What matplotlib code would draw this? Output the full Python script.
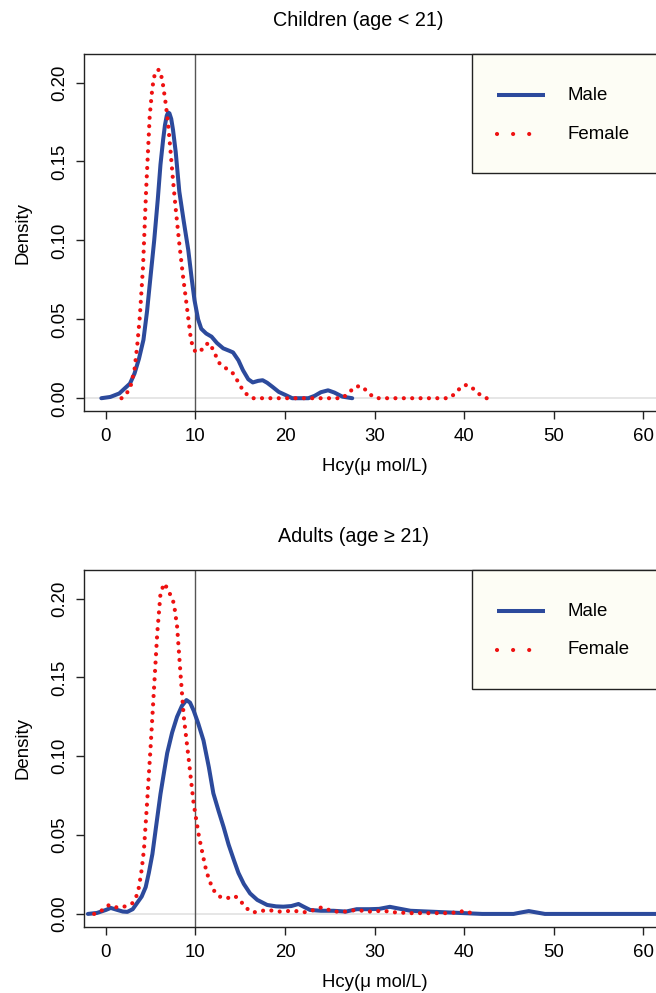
import numpy as np
import matplotlib
matplotlib.use("Agg")
import matplotlib.pyplot as plt
from matplotlib.patches import Rectangle
from matplotlib.lines import Line2D

plt.rcParams['font.family'] = ['Liberation Sans', 'DejaVu Sans']

# Children (age < 21) density curves
child_male_x = [-0.5, 0.5, 1.5, 2.7, 3.2, 3.7, 4.2, 4.6, 4.9, 5.4, 5.8, 6.1, 6.4, 6.6, 6.8, 6.95,
                7.1, 7.3, 7.5, 7.8, 8.2, 8.7, 9.2, 9.6, 9.9, 10.3, 10.65, 11.2, 11.8, 12.4, 13.1,
                13.8, 14.2, 14.8, 15.3, 15.9, 16.4, 17.0, 17.5, 18.0, 18.6, 19.3, 20.1, 20.8,
                22.6, 23.3, 24.0, 24.8, 25.5, 26.4, 27.5]
child_male_y = [0.0, 0.0008, 0.003, 0.0093, 0.0156, 0.025, 0.037, 0.055, 0.072, 0.100, 0.126,
                0.148, 0.164, 0.173, 0.179, 0.181, 0.1805, 0.177, 0.170, 0.156, 0.131, 0.112,
                0.094, 0.075, 0.062, 0.050, 0.044, 0.041, 0.039, 0.035, 0.0316, 0.030, 0.029,
                0.024, 0.0178, 0.012, 0.010, 0.011, 0.0114, 0.0098, 0.0072, 0.004, 0.0019, 0.0,
                0.0, 0.0015, 0.0038, 0.005, 0.0036, 0.001, 0.0]

child_female_x = [1.75, 2.3, 2.7, 3.2, 3.5, 3.8, 4.15, 4.5, 4.9, 5.2, 5.45, 5.7, 6.0, 6.2, 6.4,
                  6.7, 6.95, 7.2, 7.5, 7.8, 8.2, 8.6, 9.0, 9.5, 9.8, 10.1, 10.6, 11.1, 11.6,
                  12.1, 12.7, 13.4, 14.2, 14.8, 15.3, 15.9, 16.4, 26.4, 27.2, 27.9, 28.6, 29.2,
                  29.9, 30.5, 38.3, 39.0, 39.7, 40.3, 41.0, 41.8, 42.5]
child_female_y = [0.0, 0.003, 0.006, 0.018, 0.033, 0.052, 0.083, 0.132, 0.179, 0.197, 0.205,
                  0.208, 0.208, 0.204, 0.198, 0.186, 0.174, 0.158, 0.138, 0.120, 0.098, 0.078,
                  0.060, 0.037, 0.031, 0.029, 0.030, 0.034, 0.035, 0.029, 0.022, 0.019, 0.0157,
                  0.010, 0.005, 0.0015, 0.0, 0.0, 0.004, 0.0075, 0.0075, 0.004, 0.0005, 0.0,
                  0.0, 0.003, 0.0075, 0.0085, 0.006, 0.002, 0.0]

# Adults (age >= 21)
adult_male_x = [-2.0, -1.0, 0.0, 0.55, 1.3, 1.9, 2.4, 3.0, 3.5, 4.0, 4.45, 4.8, 5.2, 5.6, 6.1,
                6.5, 6.85, 7.4, 7.95, 8.5, 9.0, 9.4, 9.8, 10.3, 10.9, 11.5, 12.0, 12.6, 13.15,
                13.7, 14.3, 14.8, 15.4, 16.1, 16.9, 18.0, 19.0, 19.8, 20.7, 21.5, 22.1, 22.8,
                24.0, 25.4, 26.8, 28.0, 29.4, 30.5, 31.7, 32.6, 34.0, 36.0, 38.0, 40.0, 42.0,
                45.5, 46.4, 47.2, 48.0, 49.0, 64.0]
adult_male_y = [0.0, 0.0006, 0.0025, 0.0038, 0.0025, 0.0015, 0.0013, 0.003, 0.007, 0.011,
                0.017, 0.026, 0.038, 0.055, 0.076, 0.090, 0.102, 0.115, 0.125, 0.132, 0.1356,
                0.134, 0.129, 0.121, 0.110, 0.093, 0.0765, 0.065, 0.055, 0.044, 0.034, 0.026,
                0.019, 0.013, 0.0089, 0.0057, 0.0048, 0.0046, 0.005, 0.0063, 0.0045, 0.0025,
                0.002, 0.002, 0.0015, 0.003, 0.003, 0.0032, 0.0045, 0.0035, 0.002, 0.0015,
                0.001, 0.0005, 0.0, 0.0, 0.001, 0.0018, 0.001, 0.0, 0.0]

adult_female_x = [-1.3, -0.5, 0.37, 1.3, 2.04, 2.96, 3.4, 3.7, 4.0, 4.26, 4.6, 5.0, 5.37, 5.74,
                  6.1, 6.5, 6.8, 7.0, 7.3, 7.6, 7.96, 8.3, 8.7, 9.26, 9.8, 10.4, 11.1, 11.5,
                  12.0, 12.7, 13.5, 14.4, 14.9, 15.4, 16.0, 16.5, 18.0, 19.4, 20.9, 22.4, 24.1,
                  25.4, 26.8, 27.9, 29.4, 30.9, 32.3, 34.0, 36.0, 38.0, 39.3, 40.0, 40.5, 41.1]
adult_female_y = [0.0, 0.002, 0.0057, 0.004, 0.0046, 0.0068, 0.011, 0.017, 0.028, 0.041, 0.070,
                  0.106, 0.142, 0.178, 0.203, 0.2096, 0.207, 0.205, 0.201, 0.197, 0.182, 0.155,
                  0.125, 0.0976, 0.070, 0.049, 0.030, 0.022, 0.0152, 0.011, 0.0099, 0.0114,
                  0.009, 0.0057, 0.002, 0.001, 0.0025, 0.0015, 0.002, 0.001, 0.0042, 0.0015,
                  0.0015, 0.0025, 0.0015, 0.002, 0.001, 0.0005, 0.0005, 0.0005, 0.001, 0.002,
                  0.001, 0.0]

cutoff = 10
x_ticks = [0, 10, 20, 30, 40, 50, 60]
y_ticks = [0.0, 0.05, 0.10, 0.15, 0.20]
y_tick_labels = ["0.00", "0.05", "0.10", "0.15", "0.20"]
series_labels = ["Male", "Female"]

BLUE = '#2c4a9c'
RED = '#ee1111'
FS = 13.4

W, H = 656, 993
fig = plt.figure(figsize=(W / 100, H / 100), dpi=100)


def fx(px):
    return px / W


def fy(py):
    return 1 - py / H


def panel(top, bottom, title, title_x, title_y, mx, my, fxs, fys):
    ax = fig.add_axes([fx(84.3), fy(bottom), fx(665) - fx(84.3), (bottom - top) / H])
    ax.axhline(0, color='#e2e2e2', lw=1.2, zorder=1)
    ax.axvline(cutoff, color='#555555', lw=1.0, zorder=2)
    ax.plot(mx, my, color=BLUE, lw=2.9, solid_capstyle='round', zorder=3)
    ax.plot(fxs, fys, color=RED, lw=3.0, linestyle=(0, (0.01, 2.0)),
            dash_capstyle='round', zorder=4)
    ax.set_xlim(-2.4, 62.4)
    ax.set_ylim(-0.0081, 0.2181)
    ax.set_xticks(x_ticks)
    ax.set_yticks(y_ticks)
    ax.set_yticklabels(y_tick_labels, rotation=90, va='center')
    ax.tick_params(direction='out', length=5.5, width=1.0, labelsize=FS, pad=7,
                   color='#222222')
    ax.tick_params(axis='y', pad=6)
    for s in ax.spines.values():
        s.set_color('#222222')
        s.set_linewidth(1.0)
    ax.set_xlabel("Hcy(μ mol/L)", fontsize=FS, labelpad=9)
    ax.set_ylabel("Density", fontsize=FS, labelpad=14)
    fig.text(fx(title_x), fy(title_y), title, fontsize=14.2, ha='center', va='center')

    # legend box in the top right corner
    lx0, lx1 = fx(472.3), fx(665)
    ly_top, ly_bot = fy(top), fy(top + 119)
    fig.patches.append(Rectangle((lx0, ly_bot), lx1 - lx0, ly_top - ly_bot,
                                 transform=fig.transFigure, facecolor='#fdfdf5',
                                 edgecolor='#222222', lw=1.0, zorder=5))
    rows = [(top + 41, BLUE, '-', 2.9), (top + 80, RED, (0, (0.01, 3.85)), 3.0)]
    for (py, col, ls, lw), lab in zip(rows, series_labels):
        fig.lines.append(Line2D([fx(496.5), fx(545 if ls == '-' else 535)], [fy(py), fy(py)],
                                transform=fig.transFigure, color=col, lw=lw, linestyle=ls,
                                dash_capstyle='round', solid_capstyle='butt', zorder=6))
        fig.text(fx(567.3), fy(py), lab, fontsize=FS, ha='left', va='center', zorder=7)
    return ax


panel(54, 411, "Children (age < 21)", 358, 20,
      child_male_x, child_male_y, child_female_x, child_female_y)
panel(570, 926.7, "Adults (age ≥ 21)", 354, 537,
      adult_male_x, adult_male_y, adult_female_x, adult_female_y)

fig.savefig("out.png", dpi=100)
